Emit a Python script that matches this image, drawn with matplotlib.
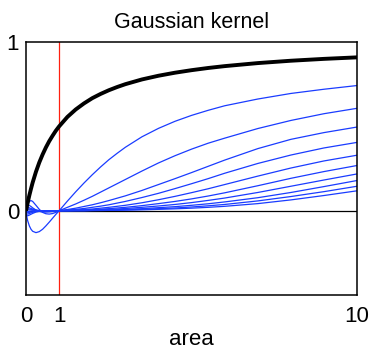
"""Gaussian kernel response curves against area."""

import matplotlib

matplotlib.use("Agg")
from matplotlib import pyplot as plt

plt.rcParams["font.family"] = ["Liberation Sans", "DejaVu Sans"]

# shared sample positions along the area axis
area = [0, 0.05, 0.1, 0.15, 0.2, 0.3, 0.4, 0.5, 0.6, 0.7, 0.8, 0.9, 1.0,
        1.25, 1.5, 1.75, 2, 2.25, 2.5, 2.75, 3, 3.5, 4, 4.5, 5, 5.5, 6, 7, 8, 9, 10]

# aggregate kernel response (thick black)
total = [0, 0.048, 0.091, 0.13, 0.167, 0.231, 0.286, 0.333, 0.375, 0.412, 0.444, 0.474, 0.5,
         0.556, 0.6, 0.636, 0.667, 0.692, 0.714, 0.733, 0.75, 0.778, 0.8, 0.818, 0.833,
         0.846, 0.857, 0.875, 0.889, 0.9, 0.909]

# individual components (thin blue), all pinned to zero at area = 1
components = [
    [-0.015, -0.06, -0.09, -0.11, -0.122, -0.13, -0.124, -0.11, -0.09, -0.068, -0.045, -0.022, 0,
     0.057, 0.112, 0.164, 0.213, 0.259, 0.302, 0.34, 0.376, 0.438, 0.488, 0.53, 0.565,
     0.595, 0.622, 0.662, 0.695, 0.72, 0.742],
    [0.01, 0.04, 0.055, 0.06, 0.055, 0.032, 0.008, -0.01, -0.018, -0.02, -0.017, -0.01, 0,
     0.02, 0.04, 0.062, 0.085, 0.11, 0.135, 0.16, 0.185, 0.235, 0.283, 0.326, 0.365,
     0.4, 0.43, 0.487, 0.535, 0.575, 0.607],
    [0.028, 0.034, 0.031, 0.025, 0.017, 0.004, -0.004, -0.008, -0.008, -0.007, -0.005, -0.003, 0,
     0.007, 0.015, 0.025, 0.035, 0.047, 0.06, 0.074, 0.088, 0.12, 0.155, 0.19, 0.226,
     0.263, 0.3, 0.368, 0.423, 0.463, 0.496],
    [-0.03, -0.03, -0.026, -0.021, -0.016, -0.008, -0.004, -0.002, -0.002, -0.002, -0.001, -0.001, 0,
     0.004, 0.008, 0.013, 0.02, 0.027, 0.035, 0.045, 0.055, 0.078, 0.103, 0.131, 0.16,
     0.19, 0.222, 0.28, 0.33, 0.372, 0.405],
    [0.02, 0.02, 0.017, 0.013, 0.01, 0.004, 0.001, -0.001, -0.001, -0.001, -0.001, 0, 0,
     0.002, 0.004, 0.007, 0.01, 0.015, 0.02, 0.026, 0.032, 0.047, 0.065, 0.085, 0.107,
     0.13, 0.155, 0.205, 0.253, 0.295, 0.329],
    [-0.02, -0.02, -0.017, -0.013, -0.01, -0.004, -0.001, 0, 0, 0, 0, 0, 0,
     0.001, 0.002, 0.004, 0.006, 0.009, 0.012, 0.016, 0.02, 0.03, 0.042, 0.055, 0.07,
     0.087, 0.106, 0.148, 0.192, 0.232, 0.268],
    [0.012, 0.012, 0.01, 0.008, 0.006, 0.002, 0, 0, 0, 0, 0, 0, 0,
     0.0, 0.001, 0.002, 0.004, 0.006, 0.008, 0.01, 0.013, 0.02, 0.028, 0.037, 0.048,
     0.061, 0.075, 0.108, 0.145, 0.182, 0.218],
    [-0.012, -0.012, -0.01, -0.008, -0.006, -0.002, 0, 0, 0, 0, 0, 0, 0,
     0, 0.001, 0.001, 0.002, 0.003, 0.005, 0.006, 0.008, 0.012, 0.018, 0.024, 0.032,
     0.041, 0.052, 0.077, 0.108, 0.143, 0.179],
    [0.006, 0.006, 0.005, 0.004, 0.003, 0.001, 0, 0, 0, 0, 0, 0, 0,
     0, 0, 0, 0.001, 0.002, 0.003, 0.004, 0.005, 0.008, 0.012, 0.016, 0.022,
     0.029, 0.037, 0.058, 0.084, 0.113, 0.145],
    [-0.005, -0.005, -0.004, -0.003, -0.002, -0.001, 0, 0, 0, 0, 0, 0, 0,
     0, 0, 0, 0.001, 0.001, 0.002, 0.002, 0.003, 0.005, 0.008, 0.011, 0.015,
     0.02, 0.026, 0.042, 0.064, 0.09, 0.118],
]

x_ticks = [0, 1, 10]
y_ticks = [0, 1]
cutoff = 1

figure = plt.figure(figsize=(3.72, 3.5), dpi=100)
axis = figure.add_axes([0.07, 0.157, 0.89, 0.723])

axis.axhline(0, color="black", linewidth=0.9, zorder=1)
axis.axvline(cutoff, color="#ff2010", linewidth=0.9, zorder=1)
for values in components:
    axis.plot(area, values, color="#1a3cff", linewidth=0.9, zorder=2)
axis.plot(area, total, color="black", linewidth=2.8, zorder=3,
          solid_capstyle="butt")

axis.set_xlim(0, 10)
axis.set_ylim(-0.5, 1)
axis.set_xticks(x_ticks)
axis.set_yticks(y_ticks)
axis.tick_params(length=0, labelsize=16)
axis.tick_params(axis="x", pad=8)
axis.tick_params(axis="y", pad=5)
for spine in axis.spines.values():
    spine.set_linewidth(1.1)

axis.set_title("Gaussian kernel", fontsize=15.5, pad=10)
axis.set_xlabel("area", fontsize=16, labelpad=1)

figure.savefig("out.png", dpi=100)
